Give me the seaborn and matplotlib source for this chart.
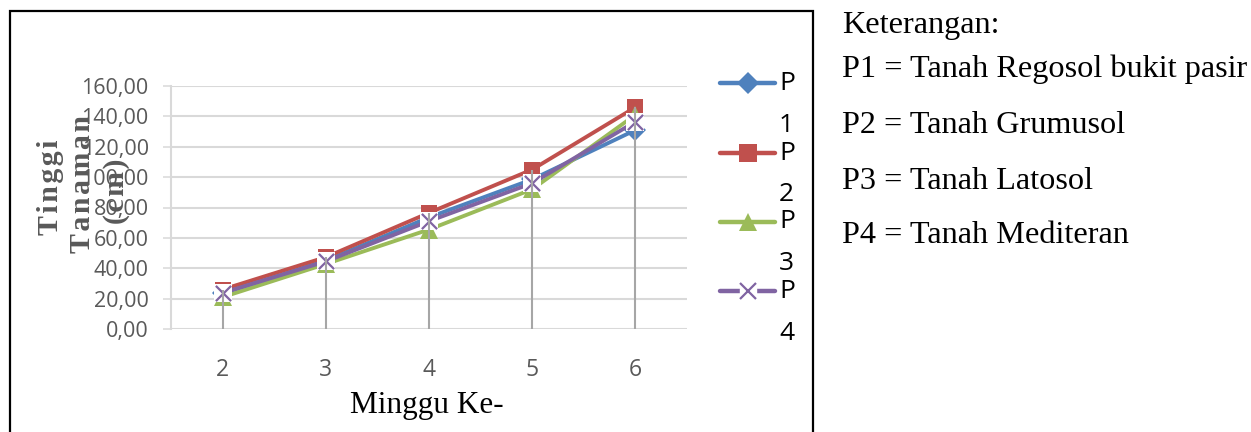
import numpy as np
import pandas as pd
import matplotlib
matplotlib.use("Agg")
import matplotlib.pyplot as plt
from matplotlib.lines import Line2D
from matplotlib.patches import Rectangle
from matplotlib.ticker import FuncFormatter, MultipleLocator
import seaborn as sns

# Plant height per week for each soil treatment
minggu = [2, 3, 4, 5, 6]
p1 = [23.5, 45.0, 73.5, 98.5, 131.0]
p2 = [26.0, 47.3, 76.5, 105.0, 146.0]
p3 = [21.0, 42.8, 65.5, 92.0, 141.0]
p4 = [23.8, 44.5, 71.0, 96.0, 136.5]
series_names = ["P1", "P2", "P3", "P4"]
keterangan = [
    "Keterangan:",
    "P1 = Tanah Regosol bukit pasir",
    "P2 = Tanah Grumusol",
    "P3 = Tanah Latosol",
    "P4 = Tanah Mediteran",
]
ylabel_lines = ["Tinggi", "Tanaman", "(cm)"]

colors = ["#4F81BD", "#C0504D", "#9BBB59", "#8064A2"]
grid_c = "#D9D9D9"
text_c = "#595959"

sns.set_theme(style="white")
plt.rcParams["font.family"] = ["Open Sans", "DejaVu Sans"]

W, H = 1251, 432
fig = plt.figure(figsize=(W / 100, H / 100), dpi=100)


def fx(px):
    return px / W


def fy(py):
    return 1 - py / H


ax = fig.add_axes([fx(171), fy(329), fx(687) - fx(171), fy(86) - fy(329)])

df = pd.DataFrame({"minggu": minggu, "P1": p1, "P2": p2, "P3": p3, "P4": p4})

LW = 2.8
# series lines with their markers
sns.lineplot(data=df, x="minggu", y="P1", ax=ax, color=colors[0], lw=LW,
             marker="D", markersize=11, markeredgecolor=colors[0],
             markeredgewidth=0, zorder=3)
sns.lineplot(data=df, x="minggu", y="P2", ax=ax, color=colors[1], lw=LW,
             marker="s", markersize=12, markeredgecolor=colors[1],
             markeredgewidth=0, zorder=4)
sns.lineplot(data=df, x="minggu", y="P3", ax=ax, color=colors[2], lw=LW,
             marker="^", markersize=13, markeredgecolor=colors[2],
             markeredgewidth=0, zorder=5)
sns.lineplot(data=df, x="minggu", y="P4", ax=ax, color=colors[3], lw=LW,
             marker="s", markersize=12.5, markerfacecolor="white",
             markeredgecolor="white", markeredgewidth=0, zorder=6)
sns.scatterplot(data=df, x="minggu", y="P4", ax=ax, color=colors[3],
                marker="x", s=120, linewidth=1.6, zorder=7)

# drop lines from the highest value down to the axis
top = df[["P1", "P2", "P3", "P4"]].max(axis=1)
ax.vlines(df["minggu"], 0, top, color="#A6A6A6", lw=1.5, zorder=8)

ax.set_xlim(1.5, 6.5)
ax.set_ylim(0, 160)
ax.yaxis.set_major_locator(MultipleLocator(20))
ax.set_xticks(minggu)
ax.yaxis.set_major_formatter(FuncFormatter(lambda v, _: f"{v:.2f}".replace(".", ",")))
ax.grid(axis="y", color=grid_c, lw=1.5)
ax.set_axisbelow(True)
for s in ["top", "right", "bottom"]:
    ax.spines[s].set_visible(False)
ax.spines["left"].set_color(grid_c)
ax.spines["left"].set_linewidth(1.5)
ax.tick_params(axis="y", length=6, width=1.1, color=grid_c, labelsize=15.5,
               labelcolor=text_c, pad=10, left=True)
ax.tick_params(axis="x", length=0, labelsize=16.5, labelcolor=text_c, pad=21)
ax.set_xlabel("")
ax.set_ylabel("")

# axis titles
serif = ["Liberation Serif", "DejaVu Serif"]
fig.text(fx(427), fy(405), "Minggu Ke-", family=serif, fontsize=22.5,
         color="black", ha="center", va="center")
for txt, (px, py) in zip(ylabel_lines, [(51, 187), (82, 184), (116, 191)]):
    fig.text(fx(px), fy(py), "\u200a".join(txt), family=serif, fontsize=21.5,
             weight="bold", color=text_c, rotation=90, ha="center",
             va="center")

# legend entries
leg_y = [83, 153, 222, 291]
leg_markers = [("D", 11, colors[0]), ("s", 13, colors[1]),
               ("^", 13, colors[2]), ("x", 11, colors[3])]
for name, c, (m, ms, mc), py in zip(series_names, colors, leg_markers, leg_y):
    fig.add_artist(Line2D([fx(720), fx(775)], [fy(py), fy(py)], color=c,
                          lw=3.2, solid_capstyle="round",
                          transform=fig.transFigure))
    if m == "x":
        fig.add_artist(Line2D([fx(747.5)], [fy(py)], marker="s", ms=12,
                              mfc="white", mec="white",
                              transform=fig.transFigure))
        fig.add_artist(Line2D([fx(747.5)], [fy(py)], marker="x", ms=ms,
                              mec=mc, mew=1.6, transform=fig.transFigure))
    else:
        fig.add_artist(Line2D([fx(747.5)], [fy(py)], marker=m, ms=ms,
                              mfc=mc, mec=mc, mew=0,
                              transform=fig.transFigure))
    fig.text(fx(779), fy(py), name[0], fontsize=19, color="black",
             ha="left", va="center")
    fig.text(fx(779), fy(py + 42), name[1], fontsize=19, color="black",
             ha="left", va="center")

# chart border
fig.add_artist(Rectangle((fx(10), -0.05), fx(813) - fx(10), fy(11) + 0.05,
                         fill=False, ec="black", lw=1.6,
                         transform=fig.transFigure))

# notes on the right
for txt, base in zip(keterangan, [33, 77, 133, 189, 243]):
    fig.text(fx(842), fy(base), txt, family=serif, fontsize=23.2,
             color="black", ha="left", va="baseline")

fig.savefig("out.png", dpi=100)
